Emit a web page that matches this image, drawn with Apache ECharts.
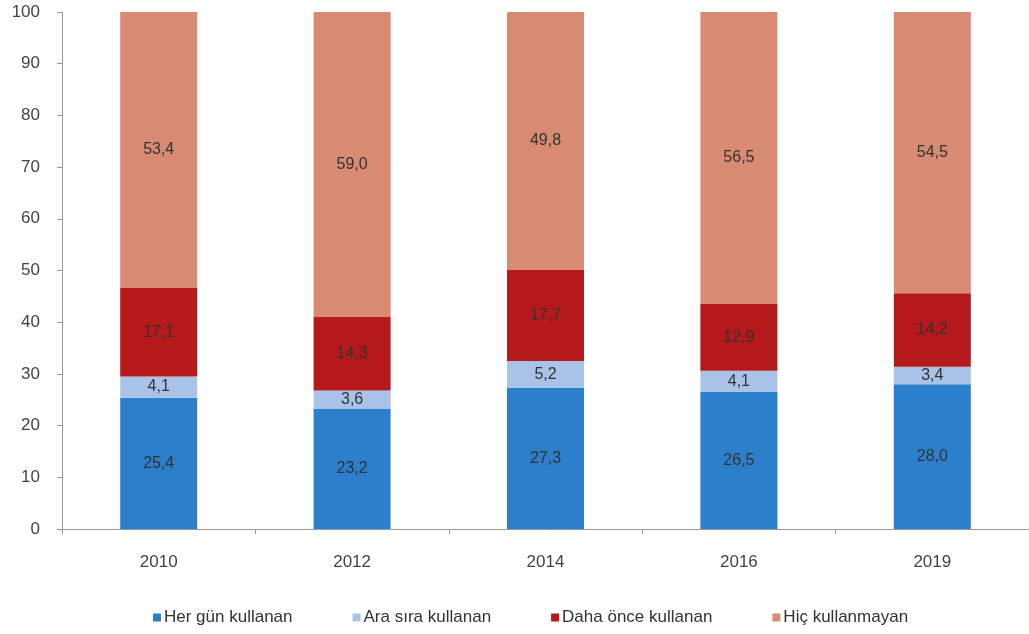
<!DOCTYPE html>
<html>
<head>
<meta charset="utf-8">
<script src="https://cdn.jsdelivr.net/npm/echarts@6/dist/echarts.min.js"></script>
<style>
  html, body { margin: 0; padding: 0; background: #fff; }
  #chart { width: 1029px; height: 634px; }
</style>
</head>
<body>
<div id="chart"></div>
<script>
// years on the x axis
var years = ["2010", "2012", "2014", "2016", "2019"];

// shares (%) per group
var herGun = [25.4, 23.2, 27.3, 26.5, 28.0];
var araSira = [4.1, 3.6, 5.2, 4.1, 3.4];
var dahaOnce = [17.1, 14.3, 17.7, 12.9, 14.2];
var hicKullanmayan = [53.4, 59.0, 49.8, 56.5, 54.5];

var chart = echarts.init(document.getElementById("chart"));

function makeSeries(name, data, color) {
  return {
    name: name,
    type: "bar",
    stack: "total",
    data: data,
    barWidth: 77,
    itemStyle: { color: color },
    label: {
      show: true,
      position: "inside",
      color: "#333",
      fontSize: 16,
      fontFamily: "Liberation Sans, Arial, sans-serif",
      formatter: function (p) {
        return p.value.toFixed(1).replace(".", ",");
      },
    },
  };
}

chart.setOption({
  animation: false,
  textStyle: { fontFamily: "Liberation Sans, Arial, sans-serif" },
  grid: {
    left: 62,
    top: 12,
    width: 970,
    height: 517,
  },
  legend: {
    bottom: 3,
    left: 148,
    itemWidth: 8,
    itemHeight: 8,
    itemGap: 60,
    icon: "rect",
    textStyle: { fontSize: 17, color: "#333", padding: [0, 0, 0, -2] },
    data: ["Her gün kullanan", "Ara sıra kullanan", "Daha önce kullanan", "Hiç kullanmayan"],
  },
  xAxis: {
    type: "category",
    data: years,
    axisLine: { lineStyle: { color: "#999" } },
    axisTick: { show: true, length: 5, lineStyle: { color: "#999" } },
    axisLabel: { fontSize: 17, color: "#444", margin: 25 },
  },
  yAxis: {
    type: "value",
    min: 0,
    max: 100,
    interval: 10,
    axisLine: { show: true, lineStyle: { color: "#999" } },
    axisTick: { show: true, length: 5, lineStyle: { color: "#999" } },
    splitLine: { show: false },
    axisLabel: { fontSize: 17, color: "#444", margin: 22 },
  },
  series: [
    makeSeries("Her gün kullanan", herGun, "#2b7fcb"),
    makeSeries("Ara sıra kullanan", araSira, "#a8c3e7"),
    makeSeries("Daha önce kullanan", dahaOnce, "#b5191b"),
    makeSeries("Hiç kullanmayan", hicKullanmayan, "#d98a73"),
  ],
});
</script>
</body>
</html>
